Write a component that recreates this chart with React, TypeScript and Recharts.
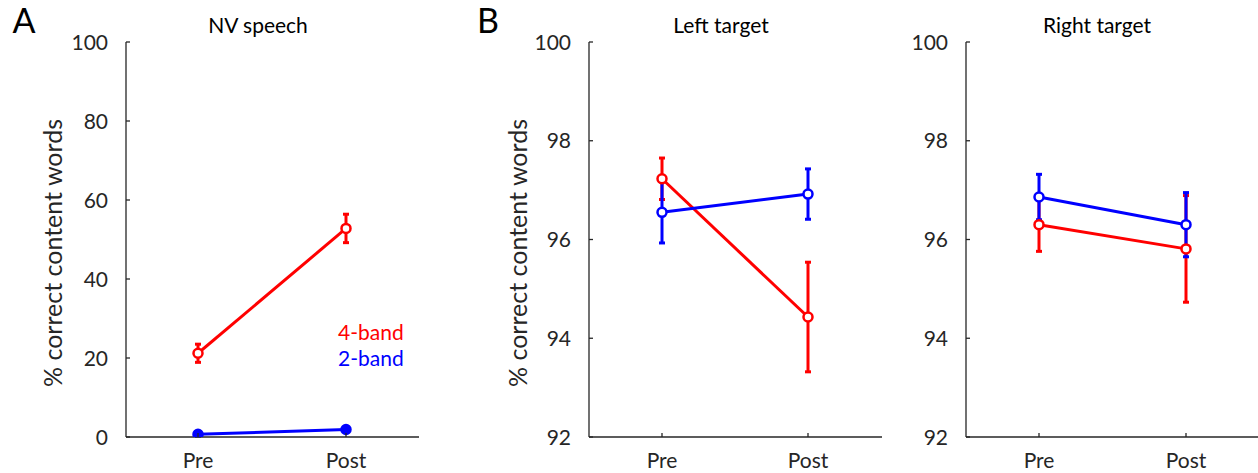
import React from "react";
import { LineChart, Line, XAxis, YAxis, ErrorBar } from "recharts";

const conditions = ["Pre", "Post"];

// NV speech (panel A)
const nvFourBand = [21.2, 52.8];
const nvFourBandErr = [2.3, 3.6];
const nvTwoBand = [0.7, 1.9];
const nvTwoBandErr = [0.5, 0.6];

// Left target (panel B)
const leftFourBand = [97.23, 94.43];
const leftFourBandErr = [0.42, 1.11];
const leftTwoBand = [96.55, 96.92];
const leftTwoBandErr = [0.62, 0.51];

// Right target (panel B)
const rightFourBand = [96.3, 95.81];
const rightFourBandErr = [0.54, 1.08];
const rightTwoBand = [96.86, 96.3];
const rightTwoBandErr = [0.46, 0.65];

const nvTicks = [0, 20, 40, 60, 80, 100];
const targetTicks = [92, 94, 96, 98, 100];
const bandNames = ["4-band", "2-band"];

const RED = "#ff0000";
const BLUE = "#0000ff";
const AXIS = "#262626";
const FONT = "Lato, 'Open Sans', sans-serif";
const TICK_SIZE = 21;

function rows(four: number[], fourErr: number[], two: number[], twoErr: number[]) {
  return conditions.map((c, i) => ({
    cond: c,
    four: four[i],
    fourErr: fourErr[i],
    two: two[i],
    twoErr: twoErr[i],
  }));
}

const XTick = (props: any) => {
  const { x, y, payload } = props;
  return (
    <g>
      <line x1={x} y1={y} x2={x} y2={y - 4} stroke={AXIS} strokeWidth={1.3} />
      <text x={x} y={y + 31} textAnchor="middle" fontSize={TICK_SIZE} fill={AXIS} fontFamily={FONT}>
        {payload.value}
      </text>
    </g>
  );
};

const YTick = (props: any) => {
  const { x, y, payload } = props;
  return (
    <g>
      <line x1={x} y1={y} x2={x + 4} y2={y} stroke={AXIS} strokeWidth={1.3} />
      <text x={x - 18} y={y + 7.5} textAnchor="end" fontSize={TICK_SIZE} fill={AXIS} fontFamily={FONT}>
        {payload.value}
      </text>
    </g>
  );
};

function Panel(props: {
  left: number;
  width: number;
  yAxisWidth: number;
  padLeft: number;
  padRight: number;
  domain: [number, number];
  ticks: number[];
  data: any[];
  twoFilled?: boolean;
}) {
  const { left, width, yAxisWidth, padLeft, padRight, domain, ticks, data, twoFilled } = props;
  return (
    <div style={{ position: "absolute", left, top: 0 }}>
      <LineChart width={width} height={473} data={data} margin={{ top: 42, bottom: 0, left: 0, right: 0 }}>
        <XAxis
          dataKey="cond"
          type="category"
          padding={{ left: padLeft, right: padRight }}
          axisLine={{ stroke: AXIS, strokeWidth: 1.3 }}
          tickLine={false}
          tickSize={0}
          tickMargin={0}
          tick={<XTick />}
          height={36}
        />
        <YAxis
          type="number"
          domain={domain}
          ticks={ticks}
          interval={0}
          width={yAxisWidth}
          axisLine={{ stroke: AXIS, strokeWidth: 1.3 }}
          tickLine={false}
          tickSize={0}
          tickMargin={0}
          tick={<YTick />}
          allowDataOverflow
        />
        <Line
          dataKey="four"
          stroke={RED}
          strokeWidth={3}
          dot={{ r: 4.5, stroke: RED, strokeWidth: 2.5, fill: "#ffffff" }}
          isAnimationActive={false}
        >
          <ErrorBar dataKey="fourErr" direction="y" width={3} stroke={RED} strokeWidth={3} />
        </Line>
        <Line
          dataKey="two"
          stroke={BLUE}
          strokeWidth={3}
          dot={{ r: 4.5, stroke: BLUE, strokeWidth: 2.5, fill: twoFilled ? BLUE : "#ffffff" }}
          isAnimationActive={false}
        >
          <ErrorBar dataKey="twoErr" direction="y" width={3} stroke={BLUE} strokeWidth={3} />
        </Line>
      </LineChart>
    </div>
  );
}

const label = (text: string, x: number, y: number, size: number, extra: React.CSSProperties = {}) => (
  <div
    style={{
      position: "absolute",
      left: x,
      top: y,
      transform: "translate(-50%, -50%)",
      whiteSpace: "nowrap",
      fontFamily: FONT,
      fontSize: size,
      lineHeight: 1,
      color: "#000",
      ...extra,
    }}
  >
    {text}
  </div>
);

export default function App() {
  const nvData = rows(nvFourBand, nvFourBandErr, nvTwoBand, nvTwoBandErr);
  const leftData = rows(leftFourBand, leftFourBandErr, leftTwoBand, leftTwoBandErr);
  const rightData = rows(rightFourBand, rightFourBandErr, rightTwoBand, rightTwoBandErr);

  return (
    <div style={{ position: "absolute", left: 0, top: 0, width: 1258, height: 473, background: "#fff", overflow: "hidden" }}>
      <Panel left={0} width={419} yAxisWidth={126} padLeft={72} padRight={73} domain={[0, 100]} ticks={nvTicks} data={nvData} twoFilled />
      <Panel left={480} width={402} yAxisWidth={109} padLeft={73} padRight={74} domain={[92, 100]} ticks={targetTicks} data={leftData} />
      <Panel left={880} width={378} yAxisWidth={86} padLeft={73} padRight={72} domain={[92, 100]} ticks={targetTicks} data={rightData} />

      <div style={{ position: "absolute", left: 338, top: 319, fontFamily: FONT, fontSize: TICK_SIZE, lineHeight: "26px" }}>
        <div style={{ color: RED }}>{bandNames[0]}</div>
        <div style={{ color: BLUE }}>{bandNames[1]}</div>
      </div>

      {label("A", 24, 20, 34)}
      {label("B", 488, 20, 34)}
      {label("NV speech", 258, 24, 21)}
      {label("Left target", 721, 24, 21)}
      {label("Right target", 1097, 24, 21)}
      {label("% correct content words", 52, 253, 25, { transform: "translate(-50%, -50%) rotate(-90deg)", color: AXIS })}
      {label("% correct content words", 517, 253, 25, { transform: "translate(-50%, -50%) rotate(-90deg)", color: AXIS })}
    </div>
  );
}
